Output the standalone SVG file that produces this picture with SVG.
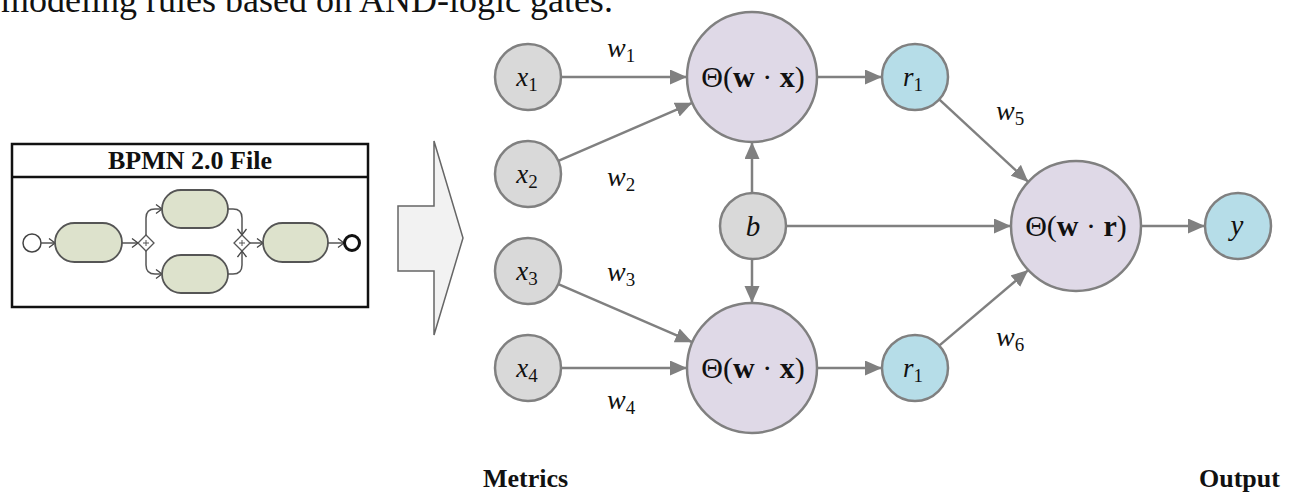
<svg xmlns="http://www.w3.org/2000/svg" width="1295" height="494" viewBox="0 0 1295 494">
<style>
.serif{font-family:"Liberation Serif","Times New Roman",serif;fill:#111}
.it{font-style:italic}
.bd{font-weight:bold}
.gray{fill:#d9d9d9;stroke:#808080;stroke-width:2.5}
.purple{fill:#dfd9e7;stroke:#808080;stroke-width:2.5}
.blue{fill:#b6dde8;stroke:#808080;stroke-width:2.5}
.edge{stroke:#808080;stroke-width:2.5;fill:none;marker-end:url(#arr)}
.bl{stroke:#555;stroke-width:1.5;fill:none;marker-end:url(#chev)}
.task{fill:#dde2cc;stroke:#555;stroke-width:1.8}
.gw{fill:#fff;stroke:#555;stroke-width:1.3}
</style>
<defs>
<marker id="arr" markerUnits="userSpaceOnUse" markerWidth="18" markerHeight="16" refX="17" refY="7.5" orient="auto"><path d="M0,0 L17,7.5 L0,15 z" fill="#808080"/></marker>
<marker id="chev" markerUnits="userSpaceOnUse" markerWidth="9" markerHeight="11" refX="7" refY="5" orient="auto"><path d="M1,0.5 L7,5 L1,9.5" fill="none" stroke="#444" stroke-width="1.3"/></marker>
</defs>
<rect width="1295" height="494" fill="#fff"/>
<text class="serif" x="1" y="12" font-size="36">modeling rules based on AND-logic gates.</text>

<g id="bpmn">
<rect x="12" y="144" width="356" height="163" fill="#fff" stroke="#111" stroke-width="2.5"/>
<line x1="12" y1="177" x2="368" y2="177" stroke="#111" stroke-width="2.5"/>
<text class="serif bd" x="190" y="169" font-size="26" text-anchor="middle">BPMN 2.0 File</text>
<circle cx="32" cy="243" r="9" fill="#fff" stroke="#444" stroke-width="1.5"/>
<path class="bl" d="M41,243 H55"/>
<rect class="task" x="55" y="223" width="67" height="39" rx="19.5"/>
<path class="bl" d="M122,243 H138"/>
<polygon class="gw" points="146,235 154,243 146,251 138,243"/>
<path d="M143,243 H149 M146,240 V246" stroke="#555" stroke-width="1"/>
<path class="bl" d="M146,235 V218 Q146,209 155,209 H162"/>
<path class="bl" d="M146,251 V265 Q146,274 155,274 H162"/>
<rect class="task" x="162" y="190" width="66" height="38" rx="19"/>
<rect class="task" x="162" y="255" width="66" height="38" rx="19"/>
<path class="bl" d="M228,209 H233 Q242,209 242,218 V235"/>
<path class="bl" d="M228,274 H233 Q242,274 242,265 V251"/>
<polygon class="gw" points="242,235 250,243 242,251 234,243"/>
<path d="M239,243 H245 M242,240 V246" stroke="#555" stroke-width="1"/>
<path class="bl" d="M250,243 H263"/>
<rect class="task" x="263" y="223" width="65" height="39" rx="19.5"/>
<path class="bl" d="M328,243 H344"/>
<circle cx="352" cy="243" r="7.5" fill="#fff" stroke="#111" stroke-width="3"/>
</g>

<g id="bigarrow">
<polygon points="398,206 434,206 434,141 463,238 434,335 434,271 398,271" fill="#f2f2f2" stroke="#666" stroke-width="1.5"/>
</g>

<g id="connectors">
<line class="edge" x1="561" y1="77" x2="687" y2="77"/>
<line class="edge" x1="558.3" y1="160.9" x2="692.3" y2="102.8"/>
<line class="edge" x1="558.3" y1="284.1" x2="692.3" y2="342.2"/>
<line class="edge" x1="561" y1="368" x2="687" y2="368"/>
<line class="edge" x1="752" y1="193" x2="752" y2="142"/>
<line class="edge" x1="752" y1="259" x2="752" y2="303"/>
<line class="edge" x1="786" y1="226" x2="1011" y2="226"/>
<line class="edge" x1="817" y1="77" x2="882" y2="77"/>
<line class="edge" x1="817" y1="368" x2="882" y2="368"/>
<line class="edge" x1="939.2" y1="99.4" x2="1028.3" y2="181.9"/>
<line class="edge" x1="939.2" y1="345.6" x2="1028.3" y2="270.1"/>
<line class="edge" x1="1141" y1="226" x2="1205" y2="226"/>
</g>

<g id="weights" class="serif it" font-size="28">
<text x="607" y="57">w<tspan font-style="normal" font-size="19" dy="5">1</tspan></text>
<text x="607" y="186">w<tspan font-style="normal" font-size="19" dy="5">2</tspan></text>
<text x="607" y="281">w<tspan font-style="normal" font-size="19" dy="5">3</tspan></text>
<text x="607" y="409">w<tspan font-style="normal" font-size="19" dy="5">4</tspan></text>
<text x="996" y="120">w<tspan font-style="normal" font-size="19" dy="5">5</tspan></text>
<text x="996" y="346">w<tspan font-style="normal" font-size="19" dy="5">6</tspan></text>
</g>

<g id="x1"><circle class="gray" cx="528" cy="77" r="33"/><text class="serif it" x="527" y="86" font-size="27" text-anchor="middle">x<tspan font-style="normal" font-size="19" dy="5">1</tspan></text></g>
<g id="x2"><circle class="gray" cx="528" cy="174" r="33"/><text class="serif it" x="527" y="183" font-size="27" text-anchor="middle">x<tspan font-style="normal" font-size="19" dy="5">2</tspan></text></g>
<g id="x3"><circle class="gray" cx="528" cy="271" r="33"/><text class="serif it" x="527" y="280" font-size="27" text-anchor="middle">x<tspan font-style="normal" font-size="19" dy="5">3</tspan></text></g>
<g id="x4"><circle class="gray" cx="528" cy="368" r="33"/><text class="serif it" x="527" y="377" font-size="27" text-anchor="middle">x<tspan font-style="normal" font-size="19" dy="5">4</tspan></text></g>
<g id="b"><circle class="gray" cx="753" cy="226" r="33"/><text class="serif it" x="753" y="236" font-size="29" text-anchor="middle">b</text></g>
<g id="theta1"><circle class="purple" cx="752" cy="77" r="65"/><text class="serif" x="753" y="87" font-size="30" text-anchor="middle">Θ(<tspan class="bd">w</tspan> · <tspan class="bd">x</tspan>)</text></g>
<g id="theta2"><circle class="purple" cx="752" cy="368" r="65"/><text class="serif" x="753" y="378" font-size="30" text-anchor="middle">Θ(<tspan class="bd">w</tspan> · <tspan class="bd">x</tspan>)</text></g>
<g id="r1a"><circle class="blue" cx="915" cy="77" r="33"/><text class="serif it" x="913" y="86" font-size="27" text-anchor="middle">r<tspan font-style="normal" font-size="19" dy="5">1</tspan></text></g>
<g id="r1b"><circle class="blue" cx="915" cy="368" r="33"/><text class="serif it" x="913" y="377" font-size="27" text-anchor="middle">r<tspan font-style="normal" font-size="19" dy="5">1</tspan></text></g>
<g id="theta3"><circle class="purple" cx="1076" cy="226" r="65"/><text class="serif" x="1076" y="236" font-size="30" text-anchor="middle">Θ(<tspan class="bd">w</tspan> · <tspan class="bd">r</tspan>)</text></g>
<g id="y"><circle class="blue" cx="1238" cy="226" r="33"/><text class="serif it" x="1237" y="235" font-size="29" text-anchor="middle">y</text></g>

<text class="serif bd" x="483" y="487" font-size="26">Metrics</text>
<text class="serif bd" x="1199" y="487" font-size="26">Output</text>
</svg>
